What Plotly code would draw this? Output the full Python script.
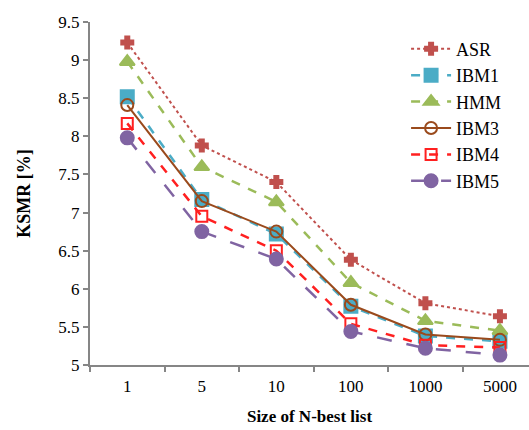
import plotly.graph_objects as go

# N-best list sizes (categorical x axis)
nbest = ["1", "5", "10", "100", "1000", "5000"]

# KSMR [%] per alignment model
asr = [9.23, 7.88, 7.40, 6.38, 5.81, 5.64]
ibm1 = [8.52, 7.17, 6.72, 5.77, 5.38, 5.31]
hmm = [8.98, 7.60, 7.14, 6.08, 5.58, 5.45]
ibm3 = [8.41, 7.15, 6.75, 5.79, 5.40, 5.33]
ibm4 = [8.17, 6.95, 6.50, 5.54, 5.26, 5.23]
ibm5 = [7.98, 6.75, 6.39, 5.44, 5.22, 5.13]

y_ticks = [5, 5.5, 6, 6.5, 7, 7.5, 8, 8.5, 9, 9.5]
y_tick_text = ["5", "5.5", "6", "6.5", "7", "7.5", "8", "8.5", "9", "9.5"]

series = [
    ("ASR", asr, "#C0504D", "dot", "cross", 10, 2),
    ("IBM1", ibm1, "#4BACC6", "dash", "square", 13, 2.5),
    ("HMM", hmm, "#9BBB59", "dash", "triangle-up", 13, 2.5),
    ("IBM3", ibm3, "#9A4A1C", "solid", "circle-open", 12, 2),
    ("IBM4", ibm4, "#FF2020", "dash", "square-open", 11, 2.5),
    ("IBM5", ibm5, "#8064A2", "longdash", "circle", 13, 2.5),
]

fig = go.Figure()
for name, vals, color, dash, symbol, msize, lw in series:
    fig.add_trace(go.Scatter(
        x=nbest, y=vals, name=name, mode="lines+markers",
        line=dict(color=color, dash=dash, width=lw),
        marker=dict(symbol=symbol, size=msize, color=color,
                    line=dict(color=color, width=2)),
    ))

font_family = "Liberation Serif, Times New Roman, serif"
fig.update_layout(
    width=529, height=430,
    margin=dict(l=90, r=0, t=22, b=65),
    paper_bgcolor="white", plot_bgcolor="white",
    font=dict(family=font_family, size=18, color="black"),
    legend=dict(x=0.72, y=0.975, xanchor="left", yanchor="top",
                bgcolor="rgba(0,0,0,0)", font=dict(size=18),
                itemwidth=40, tracegroupgap=0),
    xaxis=dict(
        type="category", range=[-0.5, 5.39],
        showgrid=False, showline=True, linecolor="#868686", linewidth=2,
        ticks="outside", ticklen=5, tickcolor="#868686", tickwidth=2,
        tickson="boundaries", tickfont=dict(size=17), ticklabelstandoff=5,
        title=dict(text="<b>Size of N-best list</b>", font=dict(size=17), standoff=15),
    ),
    yaxis=dict(
        range=[5, 9.5], tickvals=y_ticks, ticktext=y_tick_text,
        showgrid=False, showline=True, linecolor="#868686", linewidth=2,
        ticks="outside", ticklen=5, tickcolor="#868686", tickwidth=2,
        zeroline=False, tickfont=dict(size=17),
        title=dict(text="<b>KSMR [%]</b>", font=dict(size=18), standoff=23),
    ),
)

fig.write_html("out.html")
